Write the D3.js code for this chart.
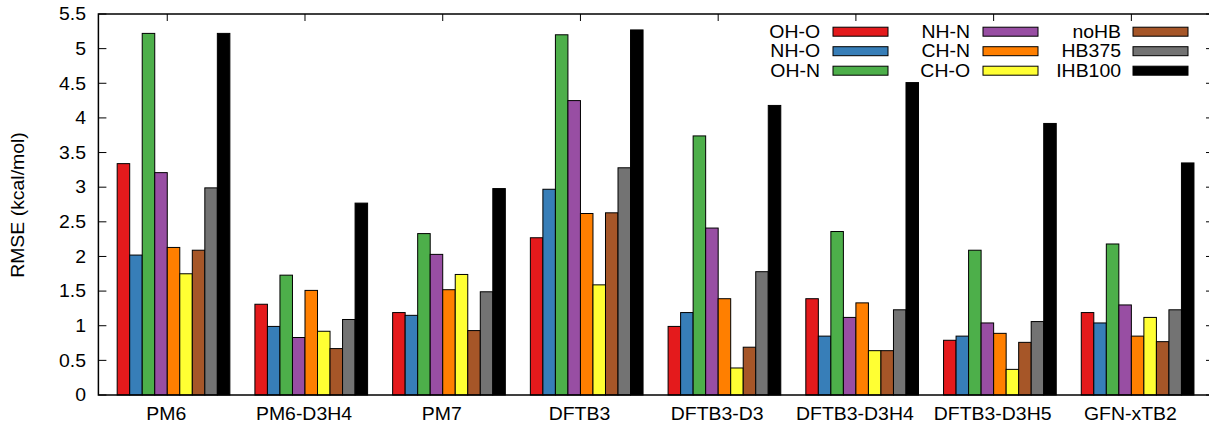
<!DOCTYPE html>
<html>
<head>
<meta charset="utf-8">
<script src="https://cdn.jsdelivr.net/npm/d3@7"></script>
<style>
  html, body { margin: 0; padding: 0; background: #fff; }
  svg { display: block; font-family: "Liberation Sans", Arial, Helvetica, sans-serif; }
</style>
</head>
<body>
<svg id="chart" width="1209" height="424"></svg>
<script>
const categories = ["PM6", "PM6-D3H4", "PM7", "DFTB3", "DFTB3-D3", "DFTB3-D3H4", "DFTB3-D3H5", "GFN-xTB2"];
const seriesNames = ["OH-O", "NH-O", "OH-N", "NH-N", "CH-N", "CH-O", "noHB", "HB375", "IHB100"];
const seriesColors = ["#e41a1c", "#377eb8", "#4daf4a", "#984ea3", "#ff7f00", "#ffff33", "#a65628", "#737373", "#000000"];
const ohO   = [3.34, 1.31, 1.19, 2.27, 0.99, 1.39, 0.79, 1.19];
const nhO   = [2.02, 0.99, 1.15, 2.97, 1.19, 0.85, 0.85, 1.04];
const ohN   = [5.22, 1.73, 2.33, 5.20, 3.74, 2.36, 2.09, 2.18];
const nhN   = [3.21, 0.83, 2.03, 4.25, 2.41, 1.12, 1.04, 1.30];
const chN   = [2.13, 1.51, 1.52, 2.62, 1.39, 1.33, 0.89, 0.85];
const chO   = [1.75, 0.92, 1.74, 1.59, 0.39, 0.64, 0.37, 1.12];
const noHB  = [2.09, 0.67, 0.93, 2.63, 0.69, 0.64, 0.76, 0.77];
const hb375 = [2.99, 1.09, 1.49, 3.28, 1.78, 1.23, 1.06, 1.23];
const ihb100= [5.22, 2.77, 2.98, 5.27, 4.18, 4.51, 3.92, 3.35];
const yTicks = [0, 0.5, 1, 1.5, 2, 2.5, 3, 3.5, 4, 4.5, 5, 5.5];
const yTickLabels = ["0", "0.5", "1", "1.5", "2", "2.5", "3", "3.5", "4", "4.5", "5", "5.5"];
const yLabel = "RMSE (kcal/mol)";

const seriesValues = [ohO, nhO, ohN, nhN, chN, chO, noHB, hb375, ihb100];

(function () {
const svg = d3.select("#chart");
const pL = 98.4, pR = 1214, pT = 14, pB = 395;
const x = d3.scaleLinear().domain([-0.5, 7.6]).range([pL, pR]);
const y = d3.scaleLinear().domain([0, 5.5]).range([pB, pT]);
const nS = seriesNames.length;
const gap = 2;
const unit = 1 / (nS + gap);
const FS = 18, SX = 1.08;

// bottom x ticks (behind bars)
svg.append("g").selectAll("line").data(categories).join("line")
  .attr("x1", (d, i) => x(i)).attr("x2", (d, i) => x(i))
  .attr("y1", pB).attr("y2", pB - 7)
  .attr("stroke", "#000").attr("stroke-width", 1);

// bars
const barsG = svg.append("g");
seriesValues.forEach((vals, j) => {
  barsG.append("g").selectAll("rect").data(vals).join("rect")
    .attr("x", (v, i) => x(i + (j - 4) * unit))
    .attr("width", (v, i) => x(i + (j - 3) * unit) - x(i + (j - 4) * unit))
    .attr("y", v => y(v))
    .attr("height", v => y(0) - y(v))
    .attr("fill", seriesColors[j])
    .attr("stroke", "#000")
    .attr("stroke-width", 1);
});

// frame
svg.append("rect").attr("x", pL).attr("y", pT)
  .attr("width", pR - pL).attr("height", pB - pT)
  .attr("fill", "none").attr("stroke", "#000").attr("stroke-width", 1.5);

// y ticks (left and right mirror)
const yt = svg.append("g");
yt.selectAll("line.l").data(yTicks).join("line").attr("class", "l")
  .attr("x1", pL).attr("x2", pL + 8)
  .attr("y1", d => y(d)).attr("y2", d => y(d))
  .attr("stroke", "#000").attr("stroke-width", 1);
yt.selectAll("line.r").data(yTicks).join("line").attr("class", "r")
  .attr("x1", pR).attr("x2", pR - 8)
  .attr("y1", d => y(d)).attr("y2", d => y(d))
  .attr("stroke", "#000").attr("stroke-width", 1);
yt.selectAll("text").data(yTicks).join("text")
  .attr("transform", d => `translate(86,${y(d)}) scale(${SX},1)`)
  .attr("text-anchor", "end").attr("dominant-baseline", "central")
  .attr("font-size", FS).attr("fill", "#000")
  .text((d, i) => yTickLabels[i]);

// top x ticks (mirror)
svg.append("g").selectAll("line").data(categories).join("line")
  .attr("x1", (d, i) => x(i)).attr("x2", (d, i) => x(i))
  .attr("y1", pT).attr("y2", pT + 7)
  .attr("stroke", "#000").attr("stroke-width", 1);

// x labels
svg.append("g").selectAll("text").data(categories).join("text")
  .attr("transform", (d, i) => `translate(${x(i) - 1},419.5) scale(${SX},1)`)
  .attr("text-anchor", "middle")
  .attr("font-size", FS).attr("fill", "#000")
  .text(d => d);

// y axis label
svg.append("text")
  .attr("transform", `translate(24,205) rotate(-90) scale(${SX},1)`)
  .attr("text-anchor", "middle")
  .attr("font-size", FS).attr("fill", "#000")
  .text(yLabel);

// legend
const colTextX = [820, 970, 1121];
const colSwX = [833, 983, 1133];
const swW = 55, swH = 9;
const rowY = [31.7, 51.2, 70.7];
const leg = svg.append("g");
seriesNames.forEach((name, k) => {
  const c = Math.floor(k / 3), r = k % 3;
  leg.append("text")
    .attr("transform", `translate(${colTextX[c]},${rowY[r]}) scale(${SX},1)`)
    .attr("text-anchor", "end").attr("dominant-baseline", "central")
    .attr("font-size", FS).attr("fill", "#000")
    .text(name);
  leg.append("rect")
    .attr("x", colSwX[c]).attr("y", rowY[r] - swH / 2)
    .attr("width", swW).attr("height", swH)
    .attr("fill", seriesColors[k]).attr("stroke", "#000").attr("stroke-width", 1);
});
})();
</script>
</body>
</html>
